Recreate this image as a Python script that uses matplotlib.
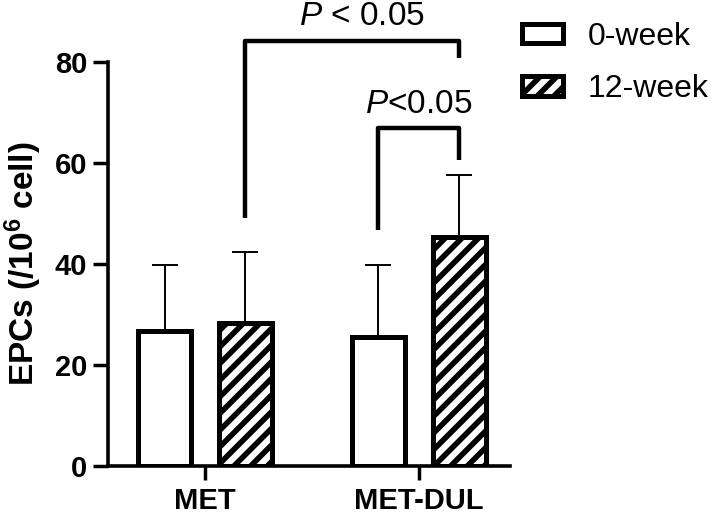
import numpy as np
import matplotlib
matplotlib.use("Agg")
import matplotlib.pyplot as plt
from matplotlib.patches import Patch

plt.rcParams["font.family"] = ["Liberation Sans", "DejaVu Sans"]
plt.rcParams["mathtext.fontset"] = "custom"
plt.rcParams["mathtext.rm"] = "Liberation Sans"
plt.rcParams["mathtext.it"] = "Liberation Sans:italic"
plt.rcParams["mathtext.bf"] = "Liberation Sans:bold"
plt.rcParams["hatch.linewidth"] = 4.0

# data
groups = ["MET", "MET-DUL"]
week0 = [26.8, 25.6]
week0_err = [12.9, 14.1]
week12 = [28.4, 45.4]
week12_err = [14.0, 12.2]

# significance brackets: (left bar, right bar, top, left-leg bottom, right-leg bottom, label, label shift)
brackets = [
    ((0, 1), (1, 1), 84.2, 49.0, 80.8, r"$P$ < 0.05", 0.047),
    ((1, 0), (1, 1), 66.9, 46.7, 60.6, r"$P$<0.05", 0.0),
]

OFF = 0.189
W = 0.248
LW = 3.6

fig = plt.figure(figsize=(7.16, 5.15), dpi=100)
ax = fig.add_axes([0.151, 0.095, 0.561, 0.785])

x = np.arange(len(groups))
ax.errorbar(x - OFF, week0, yerr=[np.zeros(2), week0_err], fmt="none",
            ecolor="black", elinewidth=1.4, capsize=9.5, capthick=1.4, zorder=1)
ax.errorbar(x + OFF, week12, yerr=[np.zeros(2), week12_err], fmt="none",
            ecolor="black", elinewidth=1.4, capsize=9.5, capthick=1.4, zorder=1)
ax.bar(x - OFF, week0, W, facecolor="white", edgecolor="black", lw=LW, zorder=2)
ax.bar(x + OFF, week12, W, facecolor="white", edgecolor="black", lw=LW,
       hatch="//", zorder=2)


def xpos(sel):
    g, k = sel
    return g + (OFF if k else -OFF)


for left, right, top, lb, rb, label, shift in brackets:
    xl, xr = xpos(left), xpos(right)
    ax.plot([xl, xl, xr, xr], [lb, top, top, rb], color="black", lw=3.2,
            solid_joinstyle="round", solid_capstyle="butt", clip_on=False)
    ax.text((xl + xr) / 2 + shift, top + 3.0, label, ha="center",
            va="baseline", fontsize=24)

ax.set_xlim(-0.453, 1.425)
ax.set_ylim(0, 80)
ax.set_yticks([0, 20, 40, 60, 80])
ax.set_xticks(x)
ax.set_xticklabels(groups, fontsize=21, fontweight="bold")
ax.tick_params(axis="y", labelsize=21, width=2.5, length=11, pad=4)
ax.tick_params(axis="x", width=2.5, length=10, pad=5)
for t in ax.get_yticklabels():
    t.set_fontweight("bold")
for s in ["top", "right"]:
    ax.spines[s].set_visible(False)
for s in ["left", "bottom"]:
    ax.spines[s].set_linewidth(2.6)
ax.set_ylabel(r"EPCs (/10$^{\mathbf{6}}$ cell)", fontsize=24,
              fontweight="bold", labelpad=8)

handles = [Patch(facecolor="white", edgecolor="black", lw=LW),
           Patch(facecolor="white", edgecolor="black", lw=LW, hatch="//")]
fig.legend(handles, ["0-week", "12-week"], loc="upper left",
           bbox_to_anchor=(0.729, 0.957), frameon=False, fontsize=23,
           handlelength=1.28, handleheight=0.55, handletextpad=0.78,
           labelspacing=0.69, borderpad=0, borderaxespad=0)

fig.savefig("out.png", dpi=100)
